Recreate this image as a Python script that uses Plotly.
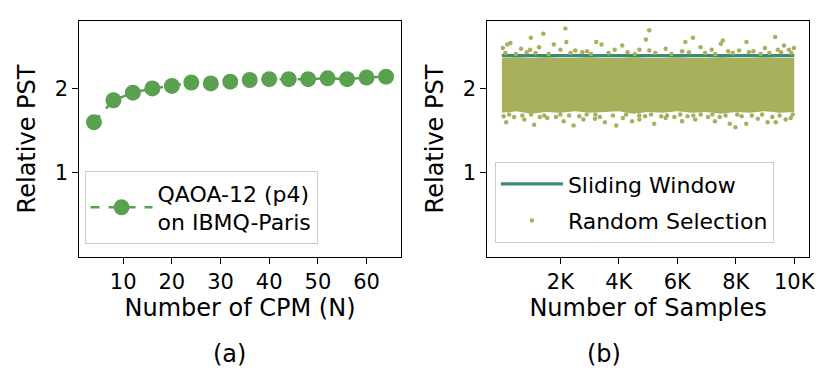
import plotly.graph_objects as go

# ---- (a) relative PST vs number of CPM ----
cpm_n = [4, 8, 12, 16, 20, 24, 28, 32, 36, 40, 44, 48, 52, 56, 60, 64]
cpm_pst = [1.60, 1.86, 1.95, 2.00, 2.03, 2.07, 2.06, 2.08, 2.10, 2.11,
           2.11, 2.11, 2.12, 2.11, 2.13, 2.14]

# ---- (b) sliding window vs random selection ----
window_x = [0, 10000]
window_pst = [2.39, 2.39]

# dense core of the random-selection cloud (envelope)
band_x = [0, 500, 1000, 1500, 2000, 2500, 3000, 3500, 4000, 4500, 5000,
          5500, 6000, 6500, 7000, 7500, 8000, 8500, 9000, 9500, 10000]
band_hi = [2.36, 2.37, 2.36, 2.37, 2.36, 2.36, 2.37, 2.36, 2.36, 2.37, 2.36,
           2.36, 2.37, 2.36, 2.36, 2.37, 2.36, 2.36, 2.37, 2.36, 2.36]
band_lo = [1.71, 1.73, 1.70, 1.72, 1.71, 1.73, 1.71, 1.72, 1.73, 1.70, 1.72,
           1.71, 1.73, 1.71, 1.72, 1.70, 1.72, 1.71, 1.73, 1.71, 1.72]

# visible stray samples outside the core
rand_x = [2173, 1418, 992, 5041, 4926, 9346, 3229, 3408, 2206, 6276, 6535,
          7558, 7490, 8368, 9650, 9819, 294, 182, 1778, 4116, 3860, 4703,
          5601, 6795, 7740, 8604, 9000, 968, 655, 1272, 2510, 2915, 6164,
          7177, 8111, 9437, 9987, 34, 5041, 2004,
          120, 480, 850, 1150, 1600, 2350, 2750, 3050, 3650, 4300, 4550,
          5250, 5800, 6400, 6950, 7300, 7900, 8450, 8850, 9150, 9550, 9900,
          148, 1103, 2453, 3914, 5210, 7795, 7988, 8358, 9090, 9370, 3523,
          4454, 2115, 2790, 6613, 7288, 9707, 766, 1552, 5601, 8753, 4703,
          6164, 3185, 4140, 420, 1850, 2650, 3350, 4900, 5900, 6350, 7050,
          8200, 9250, 9880, 60, 1300, 5450, 7450,
          250, 700, 1000, 1450, 2000, 2300, 2900, 3200, 3800, 4250, 4700,
          5100, 5650, 6100, 6550, 6800, 7200, 7650, 8050, 8550, 8900, 9500,
          9950]
rand_pst = [2.71, 2.65, 2.60, 2.69, 2.58, 2.61, 2.55, 2.52, 2.55, 2.55, 2.60,
            2.57, 2.53, 2.55, 2.51, 2.46, 2.54, 2.52, 2.52, 2.51, 2.46, 2.46,
            2.47, 2.49, 2.44, 2.44, 2.48, 2.46, 2.47, 2.49, 2.45, 2.44, 2.44,
            2.46, 2.45, 2.46, 2.48, 2.48, 2.45, 2.46,
            2.42, 2.41, 2.43, 2.42, 2.41, 2.42, 2.43, 2.41, 2.42, 2.43, 2.41,
            2.42, 2.41, 2.43, 2.42, 2.41, 2.42, 2.43, 2.41, 2.42, 2.43, 2.42,
            1.60, 1.57, 1.56, 1.56, 1.58, 1.58, 1.54, 1.58, 1.60, 1.60, 1.60,
            1.61, 1.61, 1.63, 1.63, 1.61, 1.63, 1.63, 1.65, 1.65, 1.64, 1.63,
            1.61, 1.64, 1.65, 1.66, 1.66, 1.67, 1.66, 1.67, 1.66, 1.67, 1.66,
            1.67, 1.66, 1.65, 1.67, 1.66, 1.67, 1.66,
            1.69, 1.68, 1.69, 1.68, 1.69, 1.68, 1.69, 1.69, 1.68, 1.69, 1.68,
            1.69, 1.68, 1.69, 1.68, 1.69, 1.69, 1.68, 1.69, 1.68, 1.69, 1.68,
            1.69]

x_ticks_a = [10, 20, 30, 40, 50, 60]
x_ticks_b = [2000, 4000, 6000, 8000, 10000]
x_ticks_b_text = ["2K", "4K", "6K", "8K", "10K"]
y_ticks = [1, 2]

GREEN = "#59a14f"
OLIVE = "#a9b05c"
TEAL = "#3b8a74"
FONT = "DejaVu Sans"

fig = go.Figure()

fig.add_trace(go.Scatter(
    x=cpm_n, y=cpm_pst, mode="lines+markers",
    name="QAOA-12 (p4)<br>on IBMQ-Paris",
    line=dict(color=GREEN, width=2.5, dash="dash"),
    marker=dict(color=GREEN, size=16),
    xaxis="x", yaxis="y", legend="legend",
))

fig.add_trace(go.Scatter(
    x=band_x + band_x[::-1], y=band_hi + band_lo[::-1],
    fill="toself", fillcolor=OLIVE, mode="lines",
    line=dict(width=0, color=OLIVE), hoverinfo="skip", showlegend=False,
    xaxis="x2", yaxis="y2",
))
fig.add_trace(go.Scatter(
    x=window_x, y=window_pst, mode="lines", name="Sliding Window",
    line=dict(color=TEAL, width=3.3),
    xaxis="x2", yaxis="y2", legend="legend2", legendgroup="sw",
))
fig.add_trace(go.Scatter(
    x=rand_x, y=rand_pst, mode="markers", name="Random Selection",
    marker=dict(color=OLIVE, size=4.5),
    xaxis="x2", yaxis="y2", legend="legend2", legendgroup="rs",
))

axis_common = dict(
    showline=True, mirror=True, linecolor="black", linewidth=1,
    ticks="outside", ticklen=6, tickwidth=1, tickcolor="black",
    showgrid=False, zeroline=False,
    tickfont=dict(family=FONT, size=21, color="black"),
)

fig.update_layout(
    width=830, height=376,
    margin=dict(l=0, r=0, t=0, b=0),
    paper_bgcolor="white", plot_bgcolor="white",
    font=dict(family=FONT, size=20, color="black"),
    xaxis=dict(domain=[0.0867, 0.4771], range=[1, 67], tickvals=x_ticks_a,
               title=dict(text="Number of CPM (N)", standoff=2),
               anchor="y", **axis_common),
    yaxis=dict(domain=[0.3378, 0.9654], range=[0, 2.8], tickvals=y_ticks,
               title=dict(text="Relative PST", standoff=12),
               anchor="x", **axis_common),
    xaxis2=dict(domain=[0.5823, 0.9731], range=[-500, 10500],
                tickvals=x_ticks_b, ticktext=x_ticks_b_text,
                title=dict(text="Number of Samples", standoff=2),
                anchor="y2", **axis_common),
    yaxis2=dict(domain=[0.3378, 0.9654], range=[0, 2.8], tickvals=y_ticks,
                title=dict(text="Relative PST", standoff=12),
                anchor="x2", **axis_common),
    legend=dict(x=0.093, y=0.566, xanchor="left", yanchor="top",
                bordercolor="#cccccc", borderwidth=1, bgcolor="white",
                itemwidth=62, font=dict(family=FONT, size=22)),
    legend2=dict(x=0.5916, y=0.59, xanchor="left", yanchor="top",
                 bordercolor="#cccccc", borderwidth=1, bgcolor="white",
                 itemwidth=62, tracegroupgap=5,
                 font=dict(family=FONT, size=22)),
    annotations=[
        dict(text="(a)", x=0.247, y=0.038, xref="paper", yref="paper",
             showarrow=False, font=dict(family=FONT, size=24)),
        dict(text="(b)", x=0.747, y=0.038, xref="paper", yref="paper",
             showarrow=False, font=dict(family=FONT, size=24)),
    ],
)

fig.write_html("out.html")
